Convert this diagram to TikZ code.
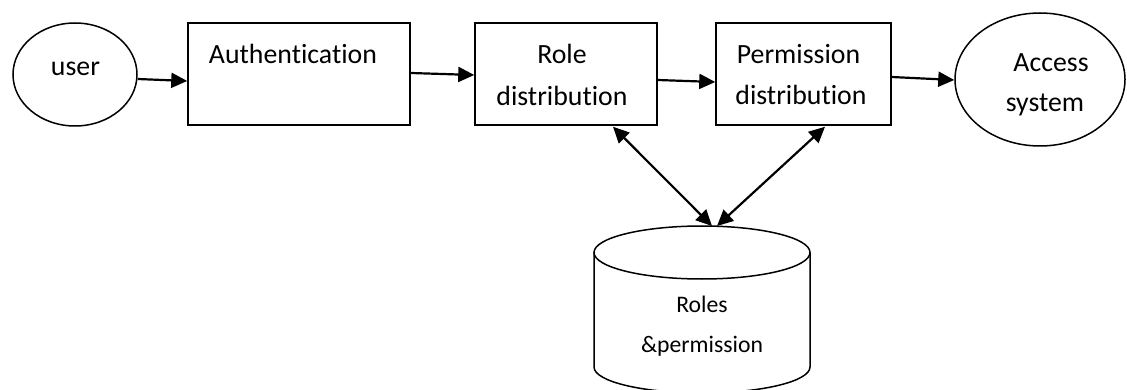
\documentclass[tikz,border=0pt]{standalone}
\usepackage{fontspec}
\setmainfont{Carlito}[Ligatures={NoCommon,NoContextual}]
\usetikzlibrary{arrows.meta,calc,shapes.geometric}

\begin{document}
\begin{tikzpicture}[x=1pt,y=-1pt,
  outline/.style={draw=black,line width=1.5pt},
  stagebox/.style={outline,rectangle,minimum width=#1,minimum height=102pt,inner sep=0pt},
  oval/.style={outline,ellipse,inner sep=0pt},
  lbl/.style={anchor=base,inner sep=0pt,font=\fontsize{27.8}{33}\selectfont},
  dblbl/.style={anchor=base,inner sep=0pt,font=\fontsize{23.7}{28}\selectfont},
  flow/.style={line width=2.2pt,-{Triangle[length=16pt,width=15pt]}},
  link/.style={line width=2.2pt,{Triangle[length=16pt,width=15pt]}-{Triangle[length=16pt,width=15pt]}}
]
\useasboundingbox (0,0) rectangle (1127,390);

% process stages
\node[oval,minimum width=124pt,minimum height=103pt] (user) at (75,74.5) {};
\node[stagebox=222pt] (auth) at (299,74) {};
\node[stagebox=182pt] (role) at (566,74) {};
\node[stagebox=175pt] (perm) at (803.5,74) {};
\node[oval,minimum width=170pt,minimum height=133pt] (access) at (1040,79.5) {};

% labels
\node[lbl] (tuser) at (75.5,76) {user};
\node[lbl] (tauth) at (293,64) {Authentication};
\node[lbl] (trole1) at (562,64) {Role};
\node[lbl] (trole2) at (562,106) {distribution};
\node[lbl] (tperm1) at (798.5,64) {Permission};
\node[lbl] (tperm2) at (801,105) {distribution};
\node[lbl] (tacc1) at (1051,72) {Access};
\node[lbl] (tacc2) at (1045,112) {system};

% database cylinder
\draw[outline] (702,252.5) ellipse [x radius=108pt,y radius=26.5pt];
\draw[outline] (594,252.5) -- (594,367)
  arc[start angle=180,end angle=360,x radius=108pt,y radius=26pt] -- (810,252.5);
\coordinate (dbtop) at (714.5,226);
\node[dblbl] (tdb1) at (702,312) {Roles};
\node[dblbl] (tdb2) at (702,352) {\&permission};

% flow arrows
\draw[flow] ($(user.east)+(0,4.5)$) -- ($(auth.west)+(0,7)$);
\draw[flow] ($(auth.east)+(0,-1)$) -- ($(role.west)+(0,1)$);
\draw[flow] ($(role.east)+(0,6)$) -- ($(perm.west)+(0,8)$);
\draw[flow] ($(perm.east)+(0,3)$) -- ($(access.west)+(0,0.5)$);

% lookups against the database
\draw[link] ($(role.south)+(47,1)$) -- ($(dbtop)+(-2.5,0)$);
\draw[link] ($(perm.south)+(21.5,1)$) -- ($(dbtop)+(2.5,0)$);
\end{tikzpicture}
\end{document}
